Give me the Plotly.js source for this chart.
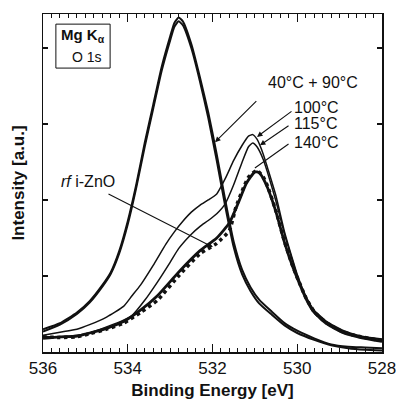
<!DOCTYPE html>
<html>
<head>
<meta charset="utf-8">
<script src="https://cdn.plot.ly/plotly-3.0.1.min.js"></script>
<style>html,body{margin:0;padding:0;background:#fff;}#chart{width:396px;height:407px;}</style>
</head>
<body>
<div id="chart"></div>
<script>
// Binding energies (eV) and intensities (a.u.)
const be_40 = [536, 535.6, 535.2, 534.9, 534.6, 534.4, 534.2, 534.0, 533.8, 533.6, 533.4, 533.2, 533.0, 532.9, 532.8, 532.7, 532.5, 532.3, 532.1, 531.9, 531.7, 531.5, 531.3, 531.1, 530.9, 530.6, 530.3, 530.0, 529.6, 529.2, 528.8, 528.4, 528.0];
const int_40 = [0.30, 0.38, 0.52, 0.67, 0.88, 1.05, 1.33, 1.72, 2.20, 2.75, 3.25, 3.75, 4.15, 4.33, 4.40, 4.35, 4.05, 3.62, 3.15, 2.60, 2.00, 1.45, 1.08, 0.85, 0.69, 0.53, 0.38, 0.28, 0.18, 0.10, 0.07, 0.06, 0.05];
const be_90 = [536, 535.6, 535.2, 534.9, 534.6, 534.4, 534.2, 534.0, 533.8, 533.6, 533.4, 533.2, 533.0, 532.9, 532.8, 532.7, 532.5, 532.3, 532.1, 531.9, 531.7, 531.5, 531.3, 531.1, 530.9, 530.6, 530.3, 530.0, 529.6, 529.2, 528.8, 528.4, 528.0];
const int_90 = [0.27, 0.36, 0.50, 0.65, 0.86, 1.03, 1.30, 1.68, 2.16, 2.70, 3.20, 3.70, 4.10, 4.28, 4.35, 4.30, 4.00, 3.57, 3.08, 2.52, 1.92, 1.38, 1.02, 0.80, 0.64, 0.49, 0.35, 0.25, 0.16, 0.09, 0.05, 0.03, 0.02];

const be_100 = [536, 535.6, 535.2, 534.9, 534.5, 534.1, 533.9, 533.7, 533.4, 533.1, 532.9, 532.7, 532.5, 532.3, 532.1, 531.9, 531.7, 531.5, 531.3, 531.15, 531.05, 530.95, 530.8, 530.7, 530.5, 530.3, 530.1, 530.0, 529.8, 529.6, 529.3, 528.9, 528.5, 528.0];
const int_100 = [0.22, 0.26, 0.30, 0.36, 0.46, 0.60, 0.74, 0.88, 1.14, 1.42, 1.58, 1.72, 1.84, 1.93, 2.00, 2.08, 2.28, 2.52, 2.72, 2.84, 2.86, 2.80, 2.60, 2.42, 2.05, 1.58, 1.20, 1.02, 0.74, 0.55, 0.40, 0.28, 0.21, 0.17];

const be_115 = [536, 535.6, 535.2, 534.9, 534.5, 534.1, 533.9, 533.6, 533.3, 533.0, 532.8, 532.5, 532.3, 532.1, 531.9, 531.7, 531.5, 531.3, 531.15, 531.05, 530.95, 530.8, 530.7, 530.5, 530.3, 530.1, 530.0, 529.8, 529.6, 529.3, 528.9, 528.5, 528.0];
const int_115 = [0.20, 0.20, 0.22, 0.25, 0.33, 0.42, 0.48, 0.68, 0.92, 1.18, 1.36, 1.55, 1.65, 1.73, 1.82, 1.95, 2.20, 2.50, 2.70, 2.75, 2.70, 2.53, 2.36, 1.98, 1.55, 1.18, 1.00, 0.72, 0.54, 0.39, 0.27, 0.20, 0.16];

const be_140 = [536, 535.6, 535.2, 534.9, 534.5, 534.1, 533.7, 533.3, 532.8, 532.3, 531.9, 531.6, 531.45, 531.3, 531.15, 530.95, 530.8, 530.7, 530.5, 530.3, 530.1, 530.0, 529.8, 529.6, 529.3, 528.9, 528.5, 528.0];
const int_140 = [0.20, 0.19, 0.20, 0.24, 0.30, 0.38, 0.52, 0.68, 1.00, 1.29, 1.43, 1.60, 1.90, 2.12, 2.30, 2.39, 2.30, 2.18, 1.85, 1.45, 1.12, 0.98, 0.72, 0.53, 0.38, 0.26, 0.20, 0.15];

const be_rf = [536, 535.6, 535.2, 534.9, 534.5, 534.1, 533.7, 533.3, 532.8, 532.3, 531.9, 531.6, 531.4, 531.2, 531.0, 530.9, 530.8, 530.7, 530.5, 530.3, 530.1, 530.0, 529.8, 529.6, 529.3, 528.9, 528.5, 528.0];
const int_rf = [0.18, 0.20, 0.21, 0.25, 0.31, 0.40, 0.55, 0.74, 1.05, 1.33, 1.50, 1.70, 1.95, 2.22, 2.37, 2.36, 2.28, 2.16, 1.84, 1.44, 1.11, 0.97, 0.71, 0.52, 0.37, 0.25, 0.19, 0.14];

const xTickVals = [536, 534, 532, 530, 528];
const xTickText = ['536', '534', '532', '530', '528'];

const FONT = 'Arial, "Liberation Sans", Helvetica, sans-serif';
const black = '#111';

function tr(x, y, width, dash) {
  return {x: x, y: y, type: 'scatter', mode: 'lines',
    line: {color: black, width: width, dash: dash || 'solid', shape: 'spline', smoothing: 0.5},
    hoverinfo: 'skip', showlegend: false};
}

const data = [
  tr(be_40, int_40, 2),
  tr(be_90, int_90, 2),
  tr(be_100, int_100, 1.5),
  tr(be_115, int_115, 1.5),
  tr(be_rf, int_rf, 2.8),
  tr(be_140, int_140, 3.5, 'dot')
];

function arrow(x, y, ax, ay, head) {
  return {x: x, y: y, ax: ax, ay: ay, xref: 'x', yref: 'y', axref: 'x', ayref: 'y',
    text: '', showarrow: true, arrowhead: head, arrowsize: 1, arrowwidth: 1.1, arrowcolor: black};
}
function label(x, y, text, anchor, size) {
  return {x: x, y: y, xref: 'x', yref: 'y', text: text, showarrow: false,
    xanchor: anchor, yanchor: 'middle', font: {family: FONT, size: size || 16, color: black}};
}

const annotations = [
  arrow(531.94, 2.76, 530.93, 3.32, 2),
  arrow(530.95, 2.83, 530.10, 3.18, 2),
  arrow(530.88, 2.72, 530.17, 2.99, 2),
  arrow(531.0, 2.42, 530.17, 2.75, 0),
  arrow(531.99, 1.38, 534.49, 2.09, 2),
  label(529.63, 3.55, '40°C + 90°C', 'center'),
  label(530.12, 3.22, '100°C', 'left'),
  label(530.12, 3.01, '115°C', 'left'),
  label(530.12, 2.75, '140°C', 'left'),
  label(534.94, 2.24, '<i>rf</i> i-ZnO', 'center'),
  {x: 0.047, y: 0.935, xref: 'paper', yref: 'paper', text: '<b>Mg K<sub>α</sub></b>', showarrow: false,
    xanchor: 'left', yanchor: 'middle', font: {family: FONT, size: 15, color: black}},
  {x: 0.080, y: 0.873, xref: 'paper', yref: 'paper', text: 'O 1s', showarrow: false,
    xanchor: 'left', yanchor: 'middle', font: {family: FONT, size: 14, color: black}}
];

const layout = {
  width: 396, height: 407,
  margin: {l: 43, r: 14, t: 14, b: 55},
  paper_bgcolor: '#fff', plot_bgcolor: '#fff',
  font: {family: FONT, color: black},
  showlegend: false,
  xaxis: {
    range: [536.0005, 527.9995], tickvals: xTickVals, ticktext: xTickText,
    ticklabeloverflow: 'allow',
    ticks: 'inside', ticklen: 8, tickwidth: 1.2, tickcolor: black,
    minor: {dtick: 0.2, ticks: 'inside', ticklen: 4, tickwidth: 1, tickcolor: black},
    showline: true, linecolor: black, linewidth: 1.5, mirror: 'allticks',
    showgrid: false, zeroline: false,
    tickfont: {family: FONT, size: 17, color: black},
    title: {text: '<b>Binding Energy [eV]</b>', font: {family: FONT, size: 17, color: black}, standoff: 7}
  },
  yaxis: {
    range: [0, 4.447], tickvals: [0, 1, 2, 3, 4], showticklabels: false,
    ticks: 'inside', ticklen: 5, tickwidth: 1.2, tickcolor: black,
    showline: true, linecolor: black, linewidth: 1.5, mirror: 'allticks',
    showgrid: false, zeroline: false,
    title: {text: '<b>Intensity [a.u.]</b>', font: {family: FONT, size: 17, color: black}, standoff: 12}
  },
  shapes: [
    {type: 'rect', xref: 'paper', yref: 'paper', x0: 0.038, x1: 0.198, y0: 0.840, y1: 0.970,
      line: {color: black, width: 1}, fillcolor: 'rgba(0,0,0,0)'}
  ],
  annotations: annotations
};

Plotly.newPlot('chart', data, layout, {staticPlot: true, displayModeBar: false});
</script>
</body>
</html>
